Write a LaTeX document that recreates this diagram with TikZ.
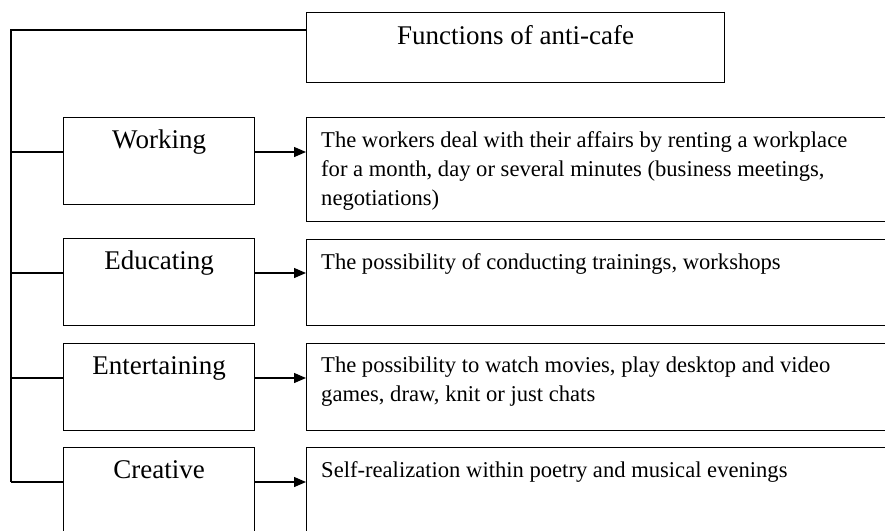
\documentclass[tikz,border=0pt]{standalone}
\usepackage{fontspec}
\setmainfont{Liberation Serif}
\usetikzlibrary{positioning,arrows.meta}

\tikzset{
	frame/.style={draw, line width=1.3pt, rectangle, anchor=north west, inner sep=0pt},
	funcbox/.style={frame, minimum width=191pt, minimum height=87pt},
	descbox/.style={frame, minimum width=600pt, minimum height=87pt},
	bigtext/.style={inner sep=0pt, font=\fontsize{27}{32}\selectfont, text height=19pt, text depth=6pt},
	desctext/.style={inner sep=0pt, align=left, font=\fontsize{22.6}{29}\selectfont},
	link/.style={line width=1.3pt},
	arrow/.style={line width=1.3pt, -{Triangle[length=12pt,width=10pt]}}
}

\begin{document}
\begin{tikzpicture}[x=1pt, y=-1pt]
	\useasboundingbox (0, 0) rectangle (885, 530);
	\clip (0, 0) rectangle (885, 530);

	\node[frame, minimum width=418pt, minimum height=70pt] (title) at (306, 12) {};
	\node[bigtext, below=13pt of title.north] (title-t) {Functions of anti-cafe};

	\node[funcbox] (work) at (63, 117) {};
	\node[funcbox] (edu) at (63, 238) {};
	\node[funcbox] (ent) at (63, 343) {};
	\node[funcbox] (cre) at (63, 447) {};

	\node[bigtext, below=12pt of work.north] (work-t) {Working};
	\node[bigtext, below=12pt of edu.north] (edu-t) {Educating};
	\node[bigtext, below=12pt of ent.north] (ent-t) {Entertaining};
	\node[bigtext, below=12pt of cre.north] (cre-t) {Creative};

	\node[descbox, minimum height=104pt] (work-d) at (306, 117) {};
	\node[descbox, minimum height=86pt] (edu-d) at (306, 239) {};
	\node[descbox] (ent-d) at (306, 343) {};
	\node[descbox] (cre-d) at (306, 447) {};

	\node[desctext, below right=14pt and 15pt of work-d.north west] (work-dt)
		{The workers deal with their affairs by renting a workplace\\
		 for a month, day or several minutes (business meetings,\\
		 negotiations)};
	\node[desctext, below right=14pt and 15pt of edu-d.north west] (edu-dt)
		{The possibility of conducting trainings, workshops};
	\node[desctext, below right=14pt and 15pt of ent-d.north west] (ent-dt)
		{The possibility to watch movies, play desktop and video\\
		 games, draw, knit or just chats};
	\node[desctext, below right=14pt and 15pt of cre-d.north west] (cre-dt)
		{Self-realization within poetry and musical evenings};

	% trunk on the left
	\coordinate (trunk) at (11, 30);
	\coordinate (cre-in) at ([yshift=-35pt]cre.north west);
	\draw[link] (trunk -| title.west) -- (trunk) -- (trunk |- cre-in);

	\foreach \n in {work, edu, ent, cre} {
		\coordinate (\n-in) at ([yshift=-35pt]\n.north west);
		\draw[link] (trunk |- \n-in) -- (\n-in);
		\draw[arrow] (\n-in -| \n.east) -- (\n-in -| \n-d.west);
	}

\end{tikzpicture}
\end{document}
